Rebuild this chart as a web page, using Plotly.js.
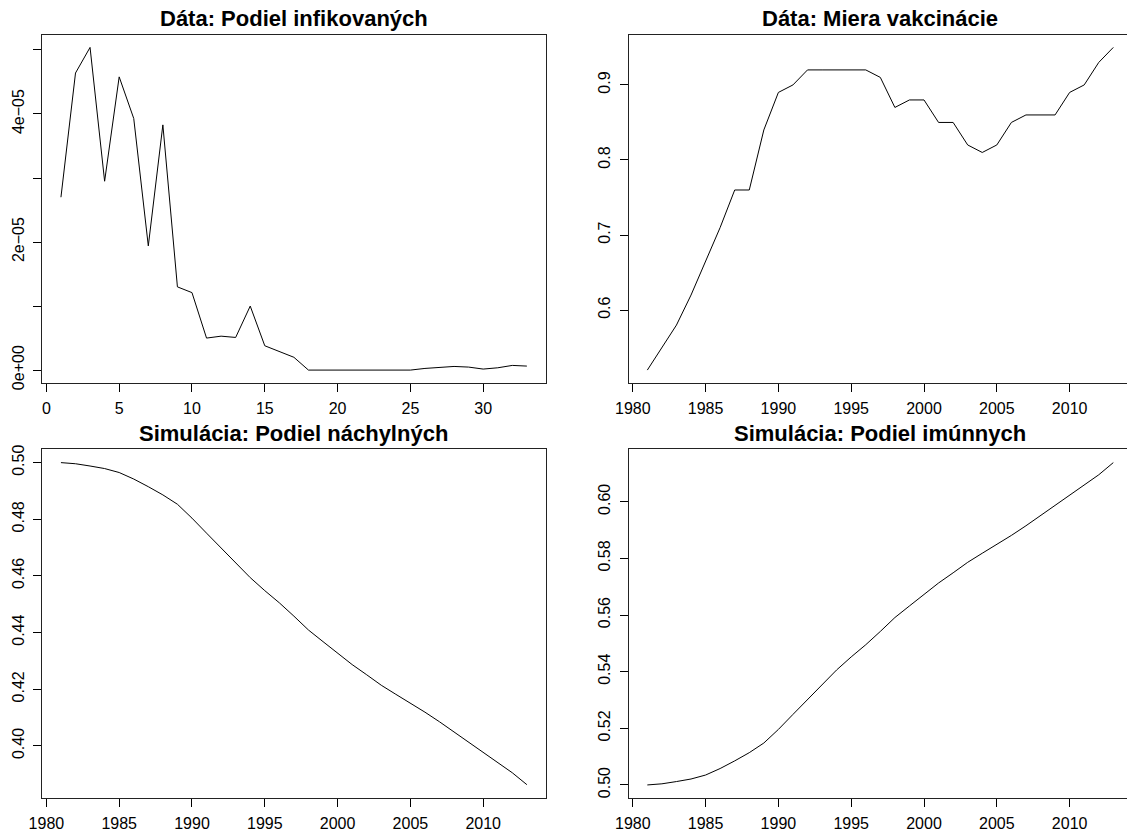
<!DOCTYPE html>
<html>
<head>
<meta charset="utf-8">
<script src="https://cdn.plot.ly/plotly-3.0.1.min.js"></script>
<style>
  html, body { margin: 0; padding: 0; background: #ffffff; }
  #chart { width: 1127px; height: 832px; }
</style>
</head>
<body>
<div id="chart"></div>
<script>
// Observed share of infected by index (1..33)
const infIndex = Array.from({length: 33}, (_, i) => i + 1);
const infShare = [
  2.70e-5, 4.64e-5, 5.04e-5, 2.95e-5, 4.58e-5, 3.93e-5, 1.94e-5, 3.83e-5,
  1.30e-5, 1.21e-5, 0.50e-5, 0.53e-5, 0.51e-5, 1.00e-5, 0.38e-5, 0.29e-5,
  0.20e-5, 0.0, 0.0, 0.0, 0.0, 0.005e-5, 0.01e-5, 0.005e-5,
  0.0, 0.026e-5, 0.036e-5, 0.057e-5, 0.047e-5, 0.016e-5, 0.036e-5, 0.073e-5,
  0.0625e-5
];

// Years 1981..2013
const years = [
  1981, 1982, 1983, 1984, 1985, 1986, 1987, 1988, 1989, 1990, 1991,
  1992, 1993, 1994, 1995, 1996, 1997, 1998, 1999, 2000, 2001, 2002,
  2003, 2004, 2005, 2006, 2007, 2008, 2009, 2010, 2011, 2012, 2013
];

// Observed vaccination rate
const vaccRate = [
  0.52, 0.55, 0.58, 0.62, 0.665, 0.71, 0.76, 0.76, 0.84, 0.89, 0.90,
  0.92, 0.92, 0.92, 0.92, 0.92, 0.91, 0.87, 0.88, 0.88, 0.85, 0.85,
  0.82, 0.81, 0.82, 0.85, 0.86, 0.86, 0.86, 0.89, 0.90, 0.93, 0.95
];

// Simulated share of susceptible
const simSusceptible = [
  0.5000, 0.4996, 0.4988, 0.4979, 0.4965, 0.4942, 0.4915, 0.4886, 0.4853, 0.4804, 0.4751,
  0.4698, 0.4645, 0.4594, 0.4548, 0.4505, 0.4458, 0.4409, 0.4368, 0.4327, 0.4287, 0.4251,
  0.4214, 0.4182, 0.4151, 0.4119, 0.4085, 0.4049, 0.4015, 0.3980, 0.3943, 0.3905, 0.3863
];

// Simulated share of immune
const simImmune = [
  0.5000, 0.5004, 0.5012, 0.5021, 0.5035, 0.5058, 0.5085, 0.5114, 0.5148, 0.5196, 0.5249,
  0.5302, 0.5355, 0.5406, 0.5452, 0.5495, 0.5542, 0.5591, 0.5632, 0.5673, 0.5713, 0.5749,
  0.5786, 0.5818, 0.5849, 0.5881, 0.5915, 0.5951, 0.5985, 0.6020, 0.6057, 0.6095, 0.6138
];

const titles = [
  'Dáta: Podiel infikovaných',
  'Dáta: Miera vakcinácie',
  'Simulácia: Podiel náchylných',
  'Simulácia: Podiel imúnnych'
];

const infTickVals = [0, 1e-5, 2e-5, 3e-5, 4e-5, 5e-5];
const infTickText = ['0e+00', '', '2e\u221205', '', '4e\u221205', ''];

const FONT = 'Liberation Sans, Arial, Helvetica, sans-serif';
const W = 1127, H = 832;

function line(x, y, xa, ya) {
  return {
    x: x, y: y, xaxis: xa, yaxis: ya,
    type: 'scatter', mode: 'lines',
    line: { color: '#000000', width: 1 },
    hoverinfo: 'skip', showlegend: false
  };
}

function baseAxis(extra) {
  return Object.assign({
    showgrid: false, zeroline: false,
    showline: true, linecolor: '#222222', linewidth: 1,
    ticks: 'outside', ticklen: 8, tickwidth: 1, tickcolor: '#000000',
    tickfont: { family: FONT, size: 16, color: '#000000' },
    fixedrange: true
  }, extra);
}

// pixel helpers
const px = v => v / W;
const py = v => 1 - v / H;

const L0 = 42.3, L1 = 545.5, R0 = 628.7, R1 = 1127;
const T0 = 34.5, T1 = 383.0, B0 = 449.3, B1 = 797.7;
const XSTAND = 3, YSTAND = 3;

const layout = {
  width: W, height: H,
  margin: { l: 0, r: 0, t: 0, b: 0 },
  paper_bgcolor: '#ffffff', plot_bgcolor: '#ffffff',
  font: { family: FONT, color: '#000000' },
  showlegend: false,

  xaxis: baseAxis({ domain: [px(L0), px(L1)], range: [-0.28, 34.28], anchor: 'y',
    tickvals: [0, 5, 10, 15, 20, 25, 30], mirror: true, ticklabelstandoff: XSTAND }),
  yaxis: baseAxis({ domain: [py(T1), py(T0)], range: [-0.2016e-5, 5.2416e-5], anchor: 'x',
    tickvals: infTickVals, ticktext: infTickText, tickangle: -90, mirror: true, ticklabelstandoff: YSTAND }),

  xaxis2: baseAxis({ domain: [px(R0), px(R1)], range: [1979.72, 2013.94], anchor: 'y2',
    tickvals: [1980, 1985, 1990, 1995, 2000, 2005, 2010], mirror: true, ticklabelstandoff: XSTAND }),
  yaxis2: baseAxis({ domain: [py(T1), py(T0)], range: [0.5028, 0.9672], anchor: 'x2',
    tickvals: [0.6, 0.7, 0.8, 0.9], ticktext: ['0.6', '0.7', '0.8', '0.9'], tickangle: -90, ticklabelstandoff: YSTAND }),

  xaxis3: baseAxis({ domain: [px(L0), px(L1)], range: [1979.72, 2014.28], anchor: 'y3',
    tickvals: [1980, 1985, 1990, 1995, 2000, 2005, 2010], mirror: true, ticklabelstandoff: XSTAND }),
  yaxis3: baseAxis({ domain: [py(B1), py(B0)], range: [0.3817, 0.5047], anchor: 'x3',
    tickvals: [0.40, 0.42, 0.44, 0.46, 0.48, 0.50], ticktext: ['0.40', '0.42', '0.44', '0.46', '0.48', '0.50'],
    tickangle: -90, mirror: true, ticklabelstandoff: YSTAND }),

  xaxis4: baseAxis({ domain: [px(R0), px(R1)], range: [1979.72, 2013.94], anchor: 'y4',
    tickvals: [1980, 1985, 1990, 1995, 2000, 2005, 2010], mirror: true, ticklabelstandoff: XSTAND }),
  yaxis4: baseAxis({ domain: [py(B1), py(B0)], range: [0.4955, 0.6185], anchor: 'x4',
    tickvals: [0.50, 0.52, 0.54, 0.56, 0.58, 0.60], ticktext: ['0.50', '0.52', '0.54', '0.56', '0.58', '0.60'],
    tickangle: -90, ticklabelstandoff: YSTAND }),

  annotations: [
    { text: '<b>' + titles[0] + '</b>', x: px((L0 + L1) / 2), y: py(18.5) },
    { text: '<b>' + titles[1] + '</b>', x: px(880.4), y: py(18.5) },
    { text: '<b>' + titles[2] + '</b>', x: px((L0 + L1) / 2), y: py(433) },
    { text: '<b>' + titles[3] + '</b>', x: px(880.4), y: py(433) }
  ].map(a => Object.assign(a, {
    xref: 'paper', yref: 'paper', xanchor: 'center', yanchor: 'middle',
    showarrow: false, font: { family: FONT, size: 22, color: '#000000' }
  }))
};

const data = [
  line(infIndex, infShare, 'x', 'y'),
  line(years, vaccRate, 'x2', 'y2'),
  line(years, simSusceptible, 'x3', 'y3'),
  line(years, simImmune, 'x4', 'y4')
];

Plotly.newPlot('chart', data, layout, { displayModeBar: false, staticPlot: true });
</script>
</body>
</html>
